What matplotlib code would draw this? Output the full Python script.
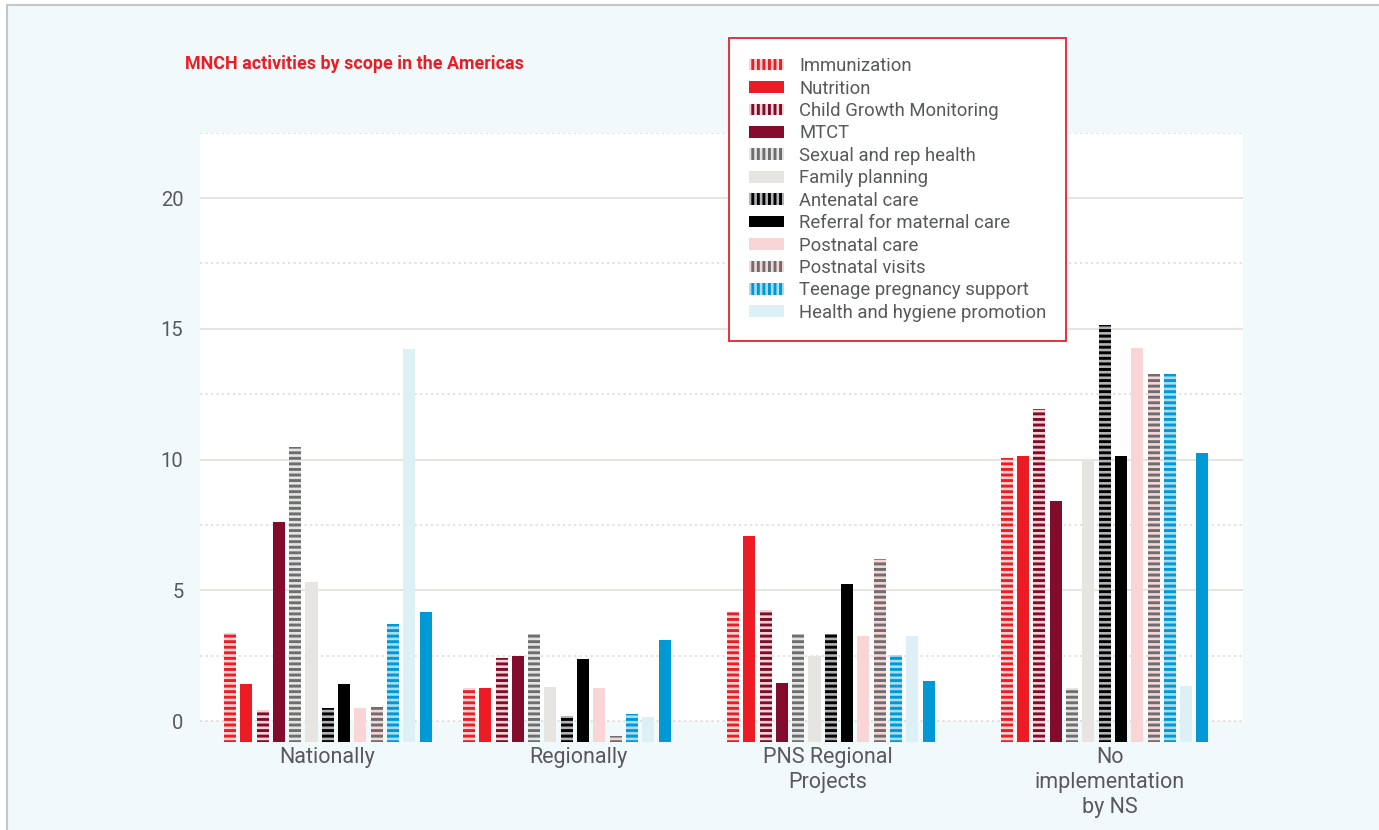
import matplotlib
matplotlib.use("Agg")
import matplotlib.pyplot as plt
from matplotlib.patches import Patch, Rectangle

plt.rcParams['font.family'] = ['Roboto', 'DejaVu Sans']
plt.rcParams['hatch.linewidth'] = 2.1

# ---- data -------------------------------------------------------------
groups = ["Nationally", "Regionally", "PNS Regional\nProjects",
          "No\nimplementation\nby NS"]

activities = ["Immunization", "Nutrition", "Child Growth Monitoring", "MTCT",
              "Sexual and rep health", "Family planning", "Antenatal care",
              "Referral for maternal care", "Postnatal care",
              "Postnatal visits", "Teenage pregnancy support",
              "Health and hygiene promotion", None]

nationally = [3.36, 1.44, 0.42, 7.60, 10.49, 5.33, 0.49, 1.44, 0.49, 0.54,
              3.71, 14.24, 4.19]
regionally = [1.28, 1.28, 2.43, 2.48, 3.32, 1.32, 0.19, 2.38, 1.29, -0.58,
              0.26, 0.18, 3.12]
pns_regional = [4.19, 7.09, 4.26, 1.46, 3.32, 2.49, 3.32, 5.24, 3.25, 6.21,
                2.53, 3.25, 1.55]
no_implementation = [10.08, 10.13, 11.93, 8.44, 1.27, 10.04, 15.16, 10.13,
                     14.26, 13.29, 13.29, 1.36, 10.27]

y_ticks = [0, 5, 10, 15, 20]

# ---- styles: (fill, stripe colour or None) ----------------------------
styles = [
    ("#f9d3d2", "#ee1c25"),
    ("#ed1c24", None),
    ("#f9d3d2", "#7f0c2c"),
    ("#830b2b", None),
    ("#e6e5e1", "#6d6e71"),
    ("#e6e5e1", None),
    ("#b1b3b6", "#000000"),
    ("#000000", None),
    ("#f9d6d5", None),
    ("#f9d6d5", "#6d6e71"),
    ("#a8dcf0", "#0099d6"),
    ("#ddf0f6", None),
    ("#0098d5", None),
]

values = [nationally, regionally, pns_regional, no_implementation]

# ---- layout -----------------------------------------------------------
W, H = 1379, 830
fig = plt.figure(figsize=(W / 100, H / 100), dpi=100, facecolor="white")

# light page background with a grey border on top and left
fig.patches.append(Rectangle((6.5 / W, -0.05), 1.2, 1 - 5.5 / H + 0.05,
                             transform=fig.transFigure, facecolor="#f2f9fb",
                             edgecolor="#c3c7cb", linewidth=1.5, zorder=-10))

ax_left, ax_right = 200, 1243
ax_top, ax_bottom = 132.7, 741.7
ax = fig.add_axes([ax_left / W, 1 - ax_bottom / H,
                   (ax_right - ax_left) / W, (ax_bottom - ax_top) / H])
ax.set_facecolor("none")

pitch_px = 16.3
floor = -0.78
top = 22.5
ax.set_xlim(0, (ax_right - ax_left) / pitch_px)
ax.set_ylim(floor, top)

# white plotting panel above zero
ax.axhspan(0, top, color="white", zorder=0, linewidth=0)

# grid: solid majors, dotted halves
for y in [5, 10, 15, 20]:
    ax.axhline(y, color="#e6e6e1", linewidth=1.5, zorder=1)
for y in [0, 2.5, 7.5, 12.5, 17.5, 22.5]:
    ax.axhline(y, color="#d8d8d8", linewidth=1.1,
               linestyle=(0, (1.4, 2.2)), zorder=1)

group_centers = [7.84, 22.5, 38.7, 55.5]
label_centers = [7.8, 23.2, 38.5, 55.8]
bar_width = 0.74
n = len(activities)

for g, vals in enumerate(values):
    for i, v in enumerate(vals):
        fill, stripe = styles[i]
        x = group_centers[g] + (i - (n - 1) / 2)
        if stripe:
            ax.bar(x, v - floor, bottom=floor, width=bar_width,
                   color=fill, edgecolor=stripe, hatch="---",
                   linewidth=0, zorder=3)
        else:
            ax.bar(x, v - floor, bottom=floor, width=bar_width,
                   color=fill, linewidth=0, zorder=3)

# axes decoration
for s in ax.spines.values():
    s.set_visible(False)
ax.set_yticks(y_ticks)
ax.set_yticklabels([str(t) for t in y_ticks])
ax.set_xticks(label_centers)
ax.set_xticklabels(groups, linespacing=1.24)
ax.tick_params(axis="y", length=0, pad=12, labelsize=14.5,
               labelcolor="#58595b")
ax.tick_params(axis="x", length=0, pad=4, labelsize=15.5,
               labelcolor="#58595b")

# title
fig.text(185 / W, 1 - 69 / H, "MNCH activities by scope in the Americas",
         color="#ed1c24", fontsize=12.9, fontweight="bold", va="baseline",
         ha="left")

# legend with vertically striped swatches
handles, labels = [], []
for name, (fill, stripe) in zip(activities, styles):
    if name is None:
        continue
    if stripe:
        h = Patch(facecolor=fill, edgecolor=stripe, hatch="|||", linewidth=0)
    else:
        h = Patch(facecolor=fill, edgecolor="none", linewidth=0)
    handles.append(h)
    labels.append(name)

leg = fig.legend(handles, labels, loc="upper left",
                 bbox_to_anchor=(729.3 / W, 1 - 37.7 / H),
                 fontsize=13.3, frameon=True, fancybox=False, framealpha=1,
                 edgecolor="#e8202a", facecolor="white",
                 handlelength=1.9, handleheight=0.6, handletextpad=0.85,
                 labelspacing=0.24, borderpad=1.05, borderaxespad=0)
leg.get_frame().set_linewidth(1.3)
for t in leg.get_texts():
    t.set_color("#58595b")
leg.set_zorder(10)

fig.savefig("out.png", dpi=100, facecolor="white")
